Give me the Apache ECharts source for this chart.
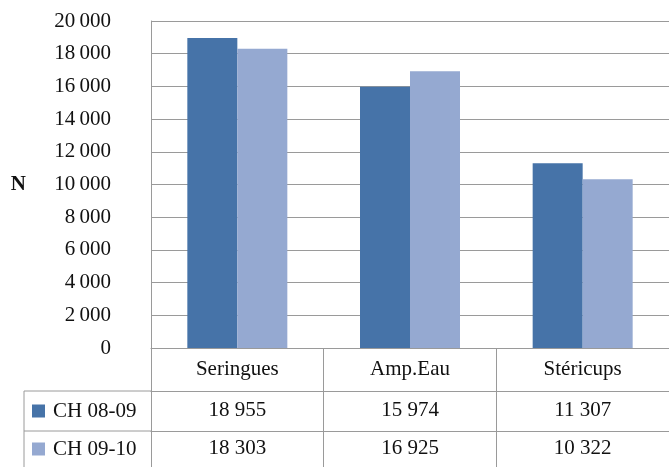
<!DOCTYPE html>
<html>
<head>
<meta charset="utf-8">
<script src="https://cdn.jsdelivr.net/npm/echarts@6/dist/echarts.min.js"></script>
<style>
  html, body { margin: 0; padding: 0; background: #fff; }
  #chart { width: 669px; height: 467px; }
</style>
</head>
<body>
<div id="chart"></div>
<script>
// Consumption by product and season
const categories = ['Seringues', 'Amp.Eau', 'Stéricups'];
const seriesNames = ['CH 08-09', 'CH 09-10'];
const ch0809 = [18955, 15974, 11307];
const ch0910 = [18303, 16925, 10322];
const yTicks = [0, 2000, 4000, 6000, 8000, 10000, 12000, 14000, 16000, 18000, 20000];

const FONT = 'Liberation Serif';
const GRID = { left: 151, top: 21, width: 522, height: 327 };
const ROW_HEADER = 43, ROW1 = 40, ROW2 = 36;
const LINE = '#9a9a9a';

// French-style thousands grouping
function fmt(v, sep) {
  const s = String(v);
  return s.length > 3 ? s.slice(0, s.length - 3) + sep + s.slice(-3) : s;
}

const chart = echarts.init(document.getElementById('chart'), null, { renderer: 'canvas' });

function tableAxis(data, offset, tickLen, margin) {
  return {
    type: 'category',
    data: data,
    position: 'bottom',
    offset: offset,
    gridIndex: 0,
    axisLine: { show: true, lineStyle: { color: LINE, width: 1 } },
    axisTick: { show: true, length: tickLen, lineStyle: { color: LINE, width: 1 } },
    axisLabel: { show: true, margin: margin, fontFamily: FONT, fontSize: 21, color: '#111' },
    splitLine: { show: false }
  };
}

chart.setOption({
  animation: false,
  backgroundColor: '#fff',
  color: ['#4673a8', '#95a9d1'],
  grid: GRID,
  legend: {
    orient: 'vertical',
    left: 32,
    top: 399,
    padding: 0,
    itemWidth: 13,
    itemHeight: 13,
    itemGap: 14,
    icon: 'rect',
    selectedMode: false,
    textStyle: { fontFamily: FONT, fontSize: 21, color: '#111', lineHeight: 24, padding: [0, 0, 0, 3] },
    data: seriesNames
  },
  xAxis: [
    tableAxis(categories, 0, ROW_HEADER, 11),
    tableAxis(ch0809.map(v => fmt(v, ' ')), ROW_HEADER, ROW1, 9),
    tableAxis(ch0910.map(v => fmt(v, ' ')), ROW_HEADER + ROW1, ROW2, 7)
  ],
  yAxis: {
    type: 'value',
    min: yTicks[0],
    max: yTicks[yTicks.length - 1],
    interval: 2000,
    name: 'N',
    nameLocation: 'middle',
    nameRotate: 0,
    nameGap: 125,
    nameTextStyle: { fontFamily: FONT, fontSize: 21, fontWeight: 'bold', color: '#111' },
    axisLine: { show: true, lineStyle: { color: LINE, width: 1 } },
    axisTick: { show: false },
    splitLine: { show: true, lineStyle: { color: LINE, width: 1 } },
    axisLabel: {
      margin: 40,
      fontFamily: FONT,
      fontSize: 21,
      color: '#111',
      formatter: v => fmt(v, '\u2009')
    }
  },
  series: [
    { name: seriesNames[0], type: 'bar', data: ch0809, barWidth: 50, barGap: '0%' },
    { name: seriesNames[1], type: 'bar', data: ch0910, barWidth: 50, barGap: '0%' }
  ],
  graphic: [
    {
      type: 'polyline',
      silent: true,
      shape: {
        points: [
          [GRID.left, GRID.top + GRID.height + ROW_HEADER],
          [24, GRID.top + GRID.height + ROW_HEADER],
          [24, 467],
        ]
      },
      style: { stroke: LINE, lineWidth: 1, fill: null }
    },
    {
      type: 'line',
      silent: true,
      shape: {
        x1: 24, y1: GRID.top + GRID.height + ROW_HEADER + ROW1,
        x2: GRID.left, y2: GRID.top + GRID.height + ROW_HEADER + ROW1
      },
      style: { stroke: LINE, lineWidth: 1 }
    }
  ]
});
</script>
</body>
</html>
